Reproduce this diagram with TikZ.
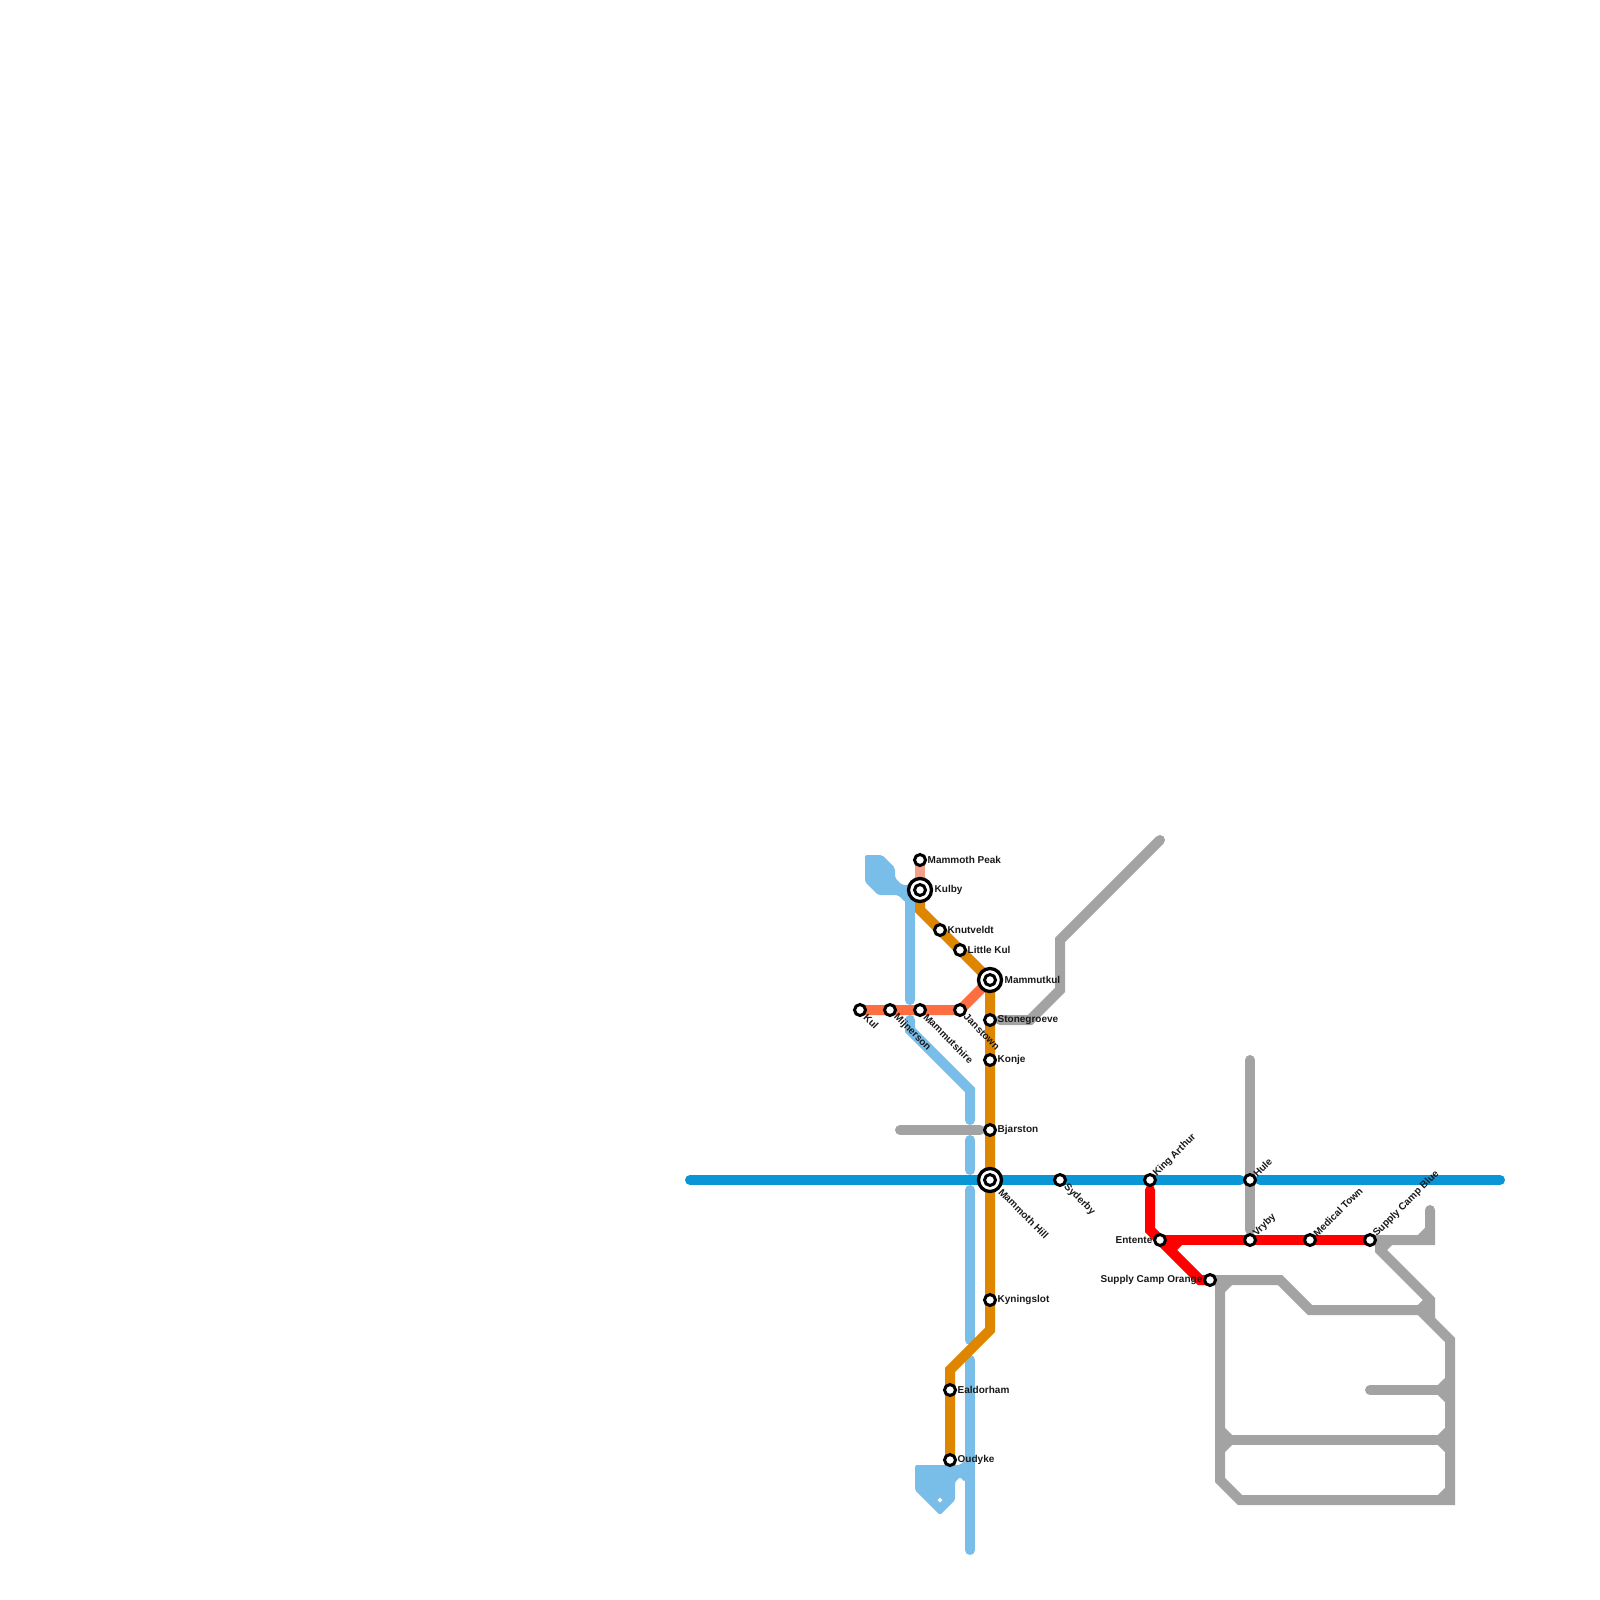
\documentclass[tikz,border=0pt]{standalone}
\usepackage{fontspec}
\setmainfont{Liberation Sans}
\usetikzlibrary{calc}
\definecolor{metroblue}{HTML}{0896D7}
\definecolor{metrosky}{HTML}{79BDE9}
\definecolor{metroorange}{HTML}{DF8600}
\definecolor{metrotomato}{HTML}{FF6E40}
\definecolor{metrosalmon}{HTML}{F4A088}
\definecolor{metrogray}{HTML}{A3A3A3}
\tikzset{
  metro line/.style={line width=1mm,line cap=round,line join=miter},
  metro fillet/.style={metro line,line cap=butt},
  metro stop/.style={circle,draw=black,fill=white,minimum size=1.1mm,
    inner sep=0pt,line width=0.3mm},
  metro hub/.style={circle,draw=black,fill=white,minimum size=2.3mm,
    inner sep=0pt,line width=0.33mm},
  stop label/.style={font=\fontsize{2.845pt}{3pt}\selectfont\bfseries,
    inner sep=0pt,text=black!90},
  label east/.style={stop label,anchor=west},
  label west/.style={stop label,anchor=east},
  label down/.style={stop label,anchor=west,rotate=-45},
  label up/.style={stop label,anchor=west,rotate=45}
}
\begin{document}
\begin{tikzpicture}[x=1mm,y=-1mm]
  \useasboundingbox (0,0) rectangle (160,160);
  % stations
  \foreach \name/\x/\y in {peak/92/86,kulby/92/89,knutveldt/94/93,littlekul/96/95,
      mammutkul/99/98,kul/86/101,mijnerson/89/101,mammutshire/92/101,janstown/96/101,
      stonegroeve/99/102,konje/99/106,bjarston/99/113,hill/99/118,syderby/106/118,
      arthur/115/118,hule/125/118,entente/116/124,vryby/125/124,medical/131/124,
      campblue/137/124,camporange/121/128,kyningslot/99/130,ealdorham/95/139,oudyke/95/146}
    \coordinate (\name) at (\x,\y);
  % sky line
  \fill[metrosky,rounded corners=0.2mm] (86.5,85.5) -- (88.2,85.5) -- (89.5,86.8) -- (89.5,87.8)
    -- (90.2,88.5) -- (91.5,88.5) -- (91.5,90.2) -- (90.5,90.2) -- (89.8,89.5) -- (87.8,89.5)
    -- (86.5,88.2) -- cycle;
  \fill[metrosky,rounded corners=0.15mm] (91.5,146.5) -- (96,146.5) -- (96.5,146) -- (96.5,148.2)
    -- (96,147.7) -- (95.5,148.2) -- (95.5,150) -- (94,151.5) -- (91.5,149) -- cycle;
  \fill[white] (94,149.75) -- (94.25,150) -- (94,150.25) -- (93.75,150) -- cycle;
  \coordinate (skya) at (91,89);
  \coordinate (skyb) at (91,100);
  \coordinate (skyc) at (91,102);
  \coordinate (skybend) at (91,103);
  \coordinate (skyd) at (97,109);
  \coordinate (skye) at (97,112);
  \coordinate (skyf) at (97,114);
  \coordinate (skyg) at (97,117);
  \coordinate (skyh) at (97,119);
  \coordinate (skyi) at (97,134);
  \coordinate (skyj) at (97,136);
  \coordinate (skyk) at (97,155);
  \foreach \from/\to in {skya/skyb,skyf/skyg,skyh/skyi,skyj/skyk}
    \draw[metro line,metrosky] (\from) -- (\to);
  \draw[metro line,metrosky] (skyc) -- (skybend) -- (skyd) -- (skye);
  % blue line
  \coordinate (bluewest) at (69,118);
  \coordinate (bluea) at (124,118);
  \coordinate (blueb) at (126,118);
  \coordinate (blueeast) at (150,118);
  \draw[metro line,metroblue] (bluewest) -- (bluea);
  \draw[metro line,metroblue] (blueb) -- (blueeast);
  % orange lines
  \coordinate (orangea) at (92,91);
  \coordinate (orangeb) at (99,133);
  \coordinate (orangec) at (95,137);
  \draw[metro line,line cap=butt,metroorange] (kulby) -- (orangea) -- (mammutkul) -- (orangeb)
    -- (orangec) -- (oudyke);
  \draw[metro line,line cap=butt,metrosalmon] (peak) -- (kulby);
  \draw[metro line,line cap=butt,metrotomato] (kul) -- (janstown) -- (mammutkul);
  % red line
  \coordinate (reda) at (115,119);
  \coordinate (redb) at (115,123);
  \coordinate (redc) at (120,128);
  \coordinate (redd) at (117,125);
  \coordinate (rede) at (118,124);
  \draw[metro line,red] (reda) -- (redb) -- (entente);
  \draw[metro line,line cap=butt,red] (entente) -- (campblue);
  \draw[metro line,line cap=butt,red] (entente) -- (redc) -- (camporange);
  \draw[metro fillet,red] (redd) -- (rede);
  % gray lines
  \coordinate (grayn) at (116,84);
  \coordinate (graya) at (106,94);
  \coordinate (grayb) at (106,99);
  \coordinate (grayc) at (103,102);
  \coordinate (grayd) at (100,102);
  \draw[metro line,metrogray] (grayn) -- (graya) -- (grayb) -- (grayc) -- (grayd);
  \coordinate (grayw) at (90,113);
  \coordinate (graye) at (98,113);
  \draw[metro line,metrogray] (grayw) -- (graye);
  \coordinate (huletop) at (125,106);
  \coordinate (hulebot) at (125,123);
  \draw[metro line,metrogray] (huletop) -- (hulebot);
  \coordinate (bluetip) at (143,121);
  \coordinate (bluecorner) at (143,124);
  \coordinate (blueend) at (138,124);
  \coordinate (bluedrop) at (138,125);
  \coordinate (junction) at (143,130);
  \coordinate (junctionb) at (143,132);
  \draw[metro line,metrogray] (bluetip) -- (bluecorner) -- (blueend) -- (bluedrop)
    -- (junction) -- (junctionb);
  \coordinate (looptop) at (122,128);
  \coordinate (loopa) at (128,128);
  \coordinate (loopb) at (131,131);
  \coordinate (loopc) at (142,131);
  \coordinate (loopd) at (145,134);
  \coordinate (loope) at (145,150);
  \coordinate (loopf) at (124,150);
  \coordinate (loopg) at (122,148);
  \draw[metro line,metrogray] (looptop) -- (loopa) -- (loopb) -- (loopc) -- (loopd) -- (loope)
    -- (loopf) -- (loopg) -- cycle;
  \coordinate (spurw) at (137,139);
  \coordinate (spure) at (145,139);
  \coordinate (midw) at (122,144);
  \coordinate (mide) at (145,144);
  \draw[metro line,metrogray] (spurw) -- (spure);
  \draw[metro line,metrogray] (midw) -- (mide);
  % fillets
  \foreach \ax/\ay/\bx/\by in {122/129/123/128,138/125/139/124,142/124/143/123,142/131/143/130,
      144/139/145/138,144/139/145/140,144/144/145/143,144/144/145/145,144/150/145/149,
      122/143/123/144,122/145/123/144}
    \draw[metro fillet,metrogray] (\ax,\ay) -- (\bx,\by);
  % station rings
  \foreach \name in {kulby,mammutkul,hill}
    \node[metro hub] (\name hub) at (\name) {};
  \foreach \name in {peak,kulby,knutveldt,littlekul,mammutkul,kul,mijnerson,mammutshire,janstown,
      stonegroeve,konje,bjarston,hill,syderby,arthur,hule,entente,vryby,medical,campblue,
      camporange,kyningslot,ealdorham,oudyke}
    \node[metro stop] (\name stop) at (\name) {};
  % labels
  \foreach \name/\txt in {peak/Mammoth Peak,knutveldt/Knutveldt,littlekul/Little Kul,
      stonegroeve/Stonegroeve,konje/Konje,bjarston/Bjarston,kyningslot/Kyningslot,
      ealdorham/Ealdorham,oudyke/Oudyke}
    \node[label east] (\name label) at ($(\name)+(0.7,0)$) {\txt};
  \foreach \name/\txt in {kulby/Kulby,mammutkul/Mammutkul}
    \node[label east] (\name label) at ($(\name)+(1.4,0)$) {\txt};
  \foreach \name/\txt in {entente/Entente,camporange/Supply Camp Orange}
    \node[label west] (\name label) at ($(\name)+(-0.7,0)$) {\txt};
  \foreach \name/\txt in {kul/Kul,mijnerson/Mijnerson,mammutshire/Mammutshire,janstown/Janstown,
      syderby/Syderby}
    \node[label down] (\name label) at ($(\name)+(0.5,0.5)$) {\txt};
  \node[label down] (hill label) at ($(hill)+(1,1)$) {Mammoth Hill};
  \foreach \name/\txt in {arthur/King Arthur,hule/Hule,vryby/Vryby,medical/Medical Town,
      campblue/Supply Camp Blue}
    \node[label up] (\name label) at ($(\name)+(0.45,-0.45)$) {\txt};
\end{tikzpicture}
\end{document}
